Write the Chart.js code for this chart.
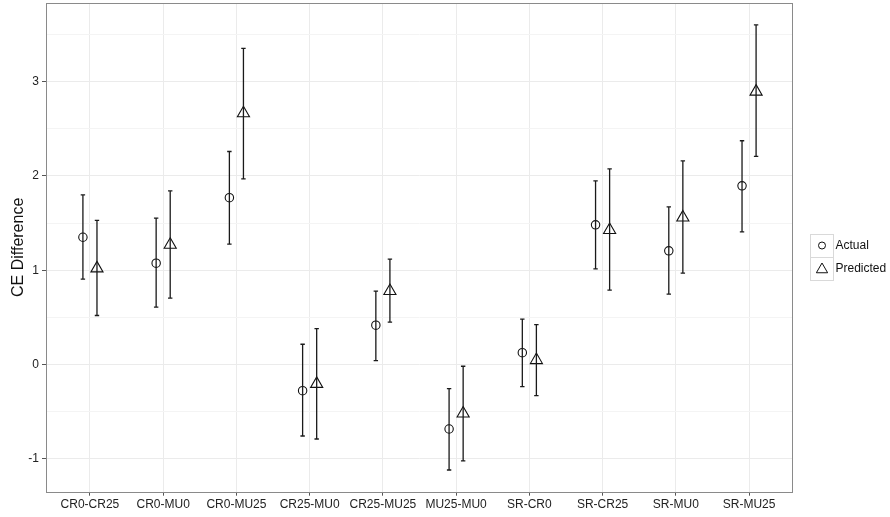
<!DOCTYPE html>
<html>
<head>
<meta charset="utf-8">
<script src="https://cdn.jsdelivr.net/npm/chart.js@4/dist/chart.umd.min.js"></script>
<style>
html,body{margin:0;padding:0;background:#fff;}
#wrap{width:890px;height:517px;position:relative;}
</style>
</head>
<body>
<div id="wrap"><canvas id="c" width="890" height="517"></canvas></div>
<script>
const categories = ['CR0-CR25','CR0-MU0','CR0-MU25','CR25-MU0','CR25-MU25','MU25-MU0','SR-CR0','SR-CR25','SR-MU0','SR-MU25'];
const actual       = [1.35, 1.075, 1.77, -0.277, 0.417, -0.684, 0.126, 1.482, 1.206, 1.896];
const actualLow    = [0.905, 0.608, 1.277, -0.758, 0.041, -1.119, -0.234, 1.015, 0.746, 1.408];
const actualHigh   = [1.80, 1.553, 2.26, 0.215, 0.778, -0.256, 0.481, 1.949, 1.673, 2.374];
const predicted     = [1.02, 1.27, 2.665, -0.205, 0.78, -0.52, 0.047, 1.427, 1.56, 2.895];
const predictedLow  = [0.52, 0.704, 1.97, -0.79, 0.449, -1.023, -0.33, 0.789, 0.969, 2.207];
const predictedHigh = [1.53, 1.843, 3.354, 0.381, 1.118, -0.018, 0.424, 2.076, 2.16, 3.602];
const yTickLabels = ['-1','0','1','2','3'];
const seriesNames = ['Actual','Predicted'];

const dodge = 0.096;
const FONT = '"Liberation Sans", Arial, sans-serif';

function pts(vals, lo, hi, off){
  return vals.map((v,i)=>({x:i+1+off, y:v, lo:lo[i], hi:hi[i]}));
}

const errorBars = {
  id:'errorBars',
  afterDatasetsDraw(chart){
    const ctx = chart.ctx, xs = chart.scales.x, ys = chart.scales.y;
    ctx.save();
    ctx.strokeStyle = '#1a1a1a';
    ctx.lineWidth = 1.3;
    chart.data.datasets.forEach(ds=>{
      ds.data.forEach(p=>{
        const x = xs.getPixelForValue(p.x);
        const y1 = ys.getPixelForValue(p.lo), y2 = ys.getPixelForValue(p.hi);
        ctx.beginPath();
        ctx.moveTo(x,y1); ctx.lineTo(x,y2);
        ctx.moveTo(x-2.2,y1); ctx.lineTo(x+2.2,y1);
        ctx.moveTo(x-2.2,y2); ctx.lineTo(x+2.2,y2);
        ctx.stroke();
      });
    });
    ctx.restore();
  }
};

const panel = {
  id:'panel',
  afterDraw(chart){
    const ctx = chart.ctx, a = chart.chartArea;
    ctx.save();
    ctx.strokeStyle = '#8a8a8a';
    ctx.lineWidth = 1;
    ctx.strokeRect(Math.round(a.left)+0.5, Math.round(a.top)+0.5, Math.round(a.right-a.left)-1, Math.round(a.bottom-a.top));
    // legend
    const lx = 810.5, ly = 234.5, w = 23, h = 23;
    ctx.strokeStyle = '#d9d9d9';
    ctx.fillStyle = '#fff';
    for(let k=0;k<2;k++){
      ctx.fillRect(lx, ly+k*h, w, h);
      ctx.strokeRect(lx, ly+k*h, w, h);
    }
    ctx.strokeStyle = '#111';
    ctx.lineWidth = 1;
    const cx = lx + w/2;
    ctx.beginPath();
    ctx.arc(cx, ly+h/2-0.5, 3.5, 0, Math.PI*2);
    ctx.stroke();
    const r = 6.5, cy = ly + h + h/2 + 0.5;
    ctx.beginPath();
    ctx.moveTo(cx, cy - r);
    ctx.lineTo(cx + r*Math.sqrt(3)/2, cy + r/2);
    ctx.lineTo(cx - r*Math.sqrt(3)/2, cy + r/2);
    ctx.closePath();
    ctx.stroke();
    ctx.fillStyle = '#111';
    ctx.font = '12px ' + FONT;
    ctx.textBaseline = 'middle';
    ctx.textAlign = 'left';
    seriesNames.forEach((n,k)=>ctx.fillText(n, lx + w + 2, ly + k*h + h/2));
    ctx.restore();
  }
};

new Chart(document.getElementById('c'), {
  type:'scatter',
  data:{
    datasets:[
      {label:seriesNames[0], data:pts(actual, actualLow, actualHigh, -dodge),
       pointStyle:'circle', pointRadius:4.2, pointBorderWidth:1.1, borderColor:'#111', backgroundColor:'rgba(0,0,0,0)', pointHoverRadius:4.2},
      {label:seriesNames[1], data:pts(predicted, predictedLow, predictedHigh, dodge),
       pointStyle:'triangle', pointRadius:7, pointBorderWidth:1.1, borderColor:'#111', backgroundColor:'rgba(0,0,0,0)', pointHoverRadius:7}
    ]
  },
  options:{
    responsive:false,
    animation:false,
    events:[],
    layout:{autoPadding:false, padding:{top:3, right:97, left:0, bottom:0}},
    plugins:{legend:{display:false}, tooltip:{enabled:false}},
    scales:{
      x:{
        type:'linear', min:0.4, max:10.6,
        afterFit(s){ s.height = 25.3; s.paddingLeft = 0; s.paddingRight = 0; },
        afterBuildTicks(s){ s.ticks = categories.map((c,i)=>({value:i+1})); },
        ticks:{
          autoSkip:false, maxRotation:0, padding:2,
          color:'#222', font:{family:FONT, size:12},
          callback:(v)=>categories[Math.round(v)-1] || ''
        },
        grid:{color:'#ebebeb', lineWidth:1, tickLength:4, tickColor:'#555', drawTicks:true},
        border:{display:false}
      },
      y:{
        type:'linear', min:-1.349, max:3.835,
        afterFit(s){ s.width = 46; s.paddingTop = 0; s.paddingBottom = 0; },
        afterBuildTicks(s){
          const t=[];
          for(let v=-1; v<=3.5; v+=0.5) t.push({value:v});
          s.ticks = t;
        },
        ticks:{
          padding:3,
          color:'#222', font:{family:FONT, size:12},
          callback:(v)=>{ const i = yTickLabels.indexOf(String(v)); return Number.isInteger(v) && i>=0 ? yTickLabels[i] : ''; }
        },
        grid:{
          color:(c)=>Number.isInteger(c.tick && c.tick.value) ? '#ebebeb' : '#f4f4f4',
          tickColor:(c)=>Number.isInteger(c.tick && c.tick.value) ? '#555' : 'rgba(0,0,0,0)',
          lineWidth:1, tickLength:4
        },
        border:{display:false},
        title:{display:true, text:'CE Difference', color:'#111', font:{family:FONT, size:16}, padding:{top:9,bottom:0}}
      }
    }
  },
  plugins:[errorBars, panel]
});
</script>
</body>
</html>
